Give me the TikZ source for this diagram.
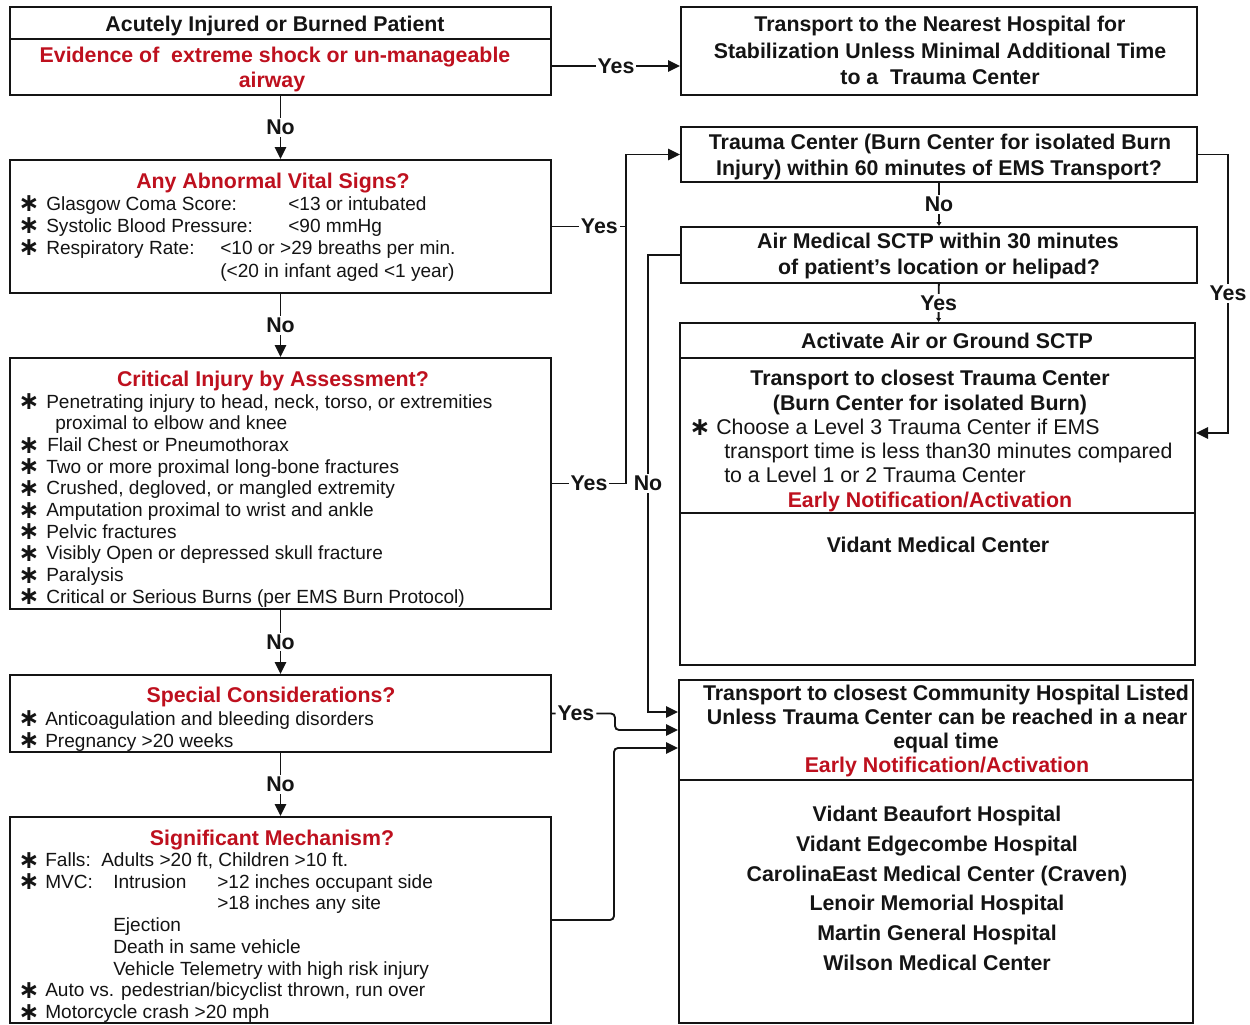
\documentclass[tikz,border=0pt]{standalone}
\usepackage{fontspec}
\setmainfont{Liberation Sans}
\newfontfamily\dvfont{DejaVu Sans}
\usetikzlibrary{fit,arrows.meta}
\definecolor{myred}{RGB}{190,16,30}
\definecolor{ink}{RGB}{20,20,20}
\newcommand\Bf{\bfseries\fontsize{16}{19}\selectfont}
\newcommand\Bd{\fontsize{14.3}{16}\selectfont}
\newcommand\Rb{\fontsize{16}{19}\selectfont}
\newcommand\Lt[4]{\node[txt,anchor=base west] (#1) at (#2,#3) {#4};}
\newcommand\Ct[4]{\node[txt,anchor=base] (#1) at (#2,#3) {#4};}
\newcommand\Sl[3]{\node[star] (#1) at (#2,#3) {\fontsize{19}{20}\selectfont\dvfont\bfseries ∗};}
\newcommand\Sr[3]{\node[star] (#1) at (#2,#3) {\fontsize{19}{20}\selectfont\dvfont\bfseries ∗};}
\begin{document}
\begin{tikzpicture}[x=0.75pt,y=-0.75pt,
  txt/.style={inner sep=0pt,text=ink},
  star/.style={inner sep=0pt,text=ink,anchor=base,yshift=-1.2pt,text height=9pt,text depth=0pt},
  box/.style={draw=ink,line width=1.5pt,inner sep=0pt},
  con/.style={draw=ink,line width=1.4pt},
  arr/.style={-{Triangle[length=9pt,width=8.5pt]}},
  arrs/.style={-{Triangle[length=3pt,width=3.5pt]}},
  lbl/.style={fill=white,inner sep=1.5pt,font=\Bf,text=ink}]
\useasboundingbox (0,0) rectangle (1250,1025);
\fill[white] (0,0) rectangle (1250,1025);
% ---------- boxes
\node[box,fit={(10,7) (551,95)}] (A) {};
\node[box,fit={(10,160) (551,293)}] (B) {};
\node[box,fit={(10,358) (551,609)}] (C) {};
\node[box,fit={(10,675) (551,752)}] (D) {};
\node[box,fit={(10,817) (551,1023)}] (E) {};
\node[box,fit={(681,7) (1197,95)}] (R1) {};
\node[box,fit={(681,127) (1197,182)}] (R2) {};
\node[box,fit={(681,227) (1197,283)}] (R3) {};
\node[box,fit={(680,323) (1195,665)}] (R4) {};
\node[box,fit={(679,680) (1193,1023)}] (R5) {};
\draw[con,line width=1.5pt] (A.west |- 0,39) -- (A.east |- 0,39);
\draw[con,line width=1.5pt] (R4.west |- 0,358) -- (R4.east |- 0,358);
\draw[con,line width=1.5pt] (R4.west |- 0,513) -- (R4.east |- 0,513);
\draw[con,line width=1.5pt] (R5.west |- 0,780) -- (R5.east |- 0,780);
% ---------- box A
\Ct{a1}{275}{31}{\Bf Acutely Injured or Burned Patient}
\Ct{a2}{275}{62}{\Bf\color{myred}Evidence of~~extreme shock or un-manageable}
\Ct{a3}{272}{87}{\Bf\color{myred}airway}
% ---------- box B
\Ct{b0}{273}{188}{\Bf\color{myred}Any Abnormal Vital Signs?}
\Sl{bs1}{29}{210}\Lt{b1}{46}{210}{\Bd Glasgow Coma Score:}\Lt{b1v}{288}{210}{\Bd <13 or intubated}
\Sl{bs2}{29}{232}\Lt{b2}{46}{232}{\Bd Systolic Blood Pressure:}\Lt{b2v}{288}{232}{\Bd <90 mmHg}
\Sl{bs3}{29}{254}\Lt{b3}{46}{254}{\Bd Respiratory Rate:}\Lt{b3v}{220}{254}{\Bd <10 or >29 breaths per min.}
\Lt{b4}{220}{277}{\Bd (<20 in infant aged <1 year)}
% ---------- box C
\Ct{c0}{273}{386}{\Bf\color{myred}Critical Injury by Assessment?}
\Sl{cs1}{29}{408}\Lt{c1}{46}{408}{\Bd Penetrating injury to head, neck, torso, or extremities}
\Lt{c1b}{55}{429.7}{\Bd proximal to elbow and knee}
\Sl{cs2}{29}{451.4}\Lt{c2}{47}{451.4}{\Bd Flail Chest or Pneumothorax}
\Sl{cs3}{29}{473.1}\Lt{c3}{46}{473.1}{\Bd Two or more proximal long-bone fractures}
\Sl{cs4}{29}{494.8}\Lt{c4}{46}{494.8}{\Bd Crushed, degloved, or mangled extremity}
\Sl{cs5}{29}{516.5}\Lt{c5}{46}{516.5}{\Bd Amputation proximal to wrist and ankle}
\Sl{cs6}{29}{538.2}\Lt{c6}{46}{538.2}{\Bd Pelvic fractures}
\Sl{cs7}{29}{559.9}\Lt{c7}{46}{559.9}{\Bd Visibly Open or depressed skull fracture}
\Sl{cs8}{29}{581.6}\Lt{c8}{46}{581.6}{\Bd Paralysis}
\Sl{cs9}{29}{603.3}\Lt{c9}{46}{603.3}{\Bd Critical or Serious Burns (per EMS Burn Protocol)}
% ---------- box D
\Ct{d0}{271}{702}{\Bf\color{myred}Special Considerations?}
\Sl{ds1}{29}{725}\Lt{d1}{45}{725}{\Bd Anticoagulation and bleeding disorders}
\Sl{ds2}{29}{747}\Lt{d2}{45}{747}{\Bd Pregnancy >20 weeks}
% ---------- box E
\Ct{e0}{272}{845}{\Bf\color{myred}Significant Mechanism?}
\Sl{es1}{29}{866.5}\Lt{e1}{45}{866.5}{\Bd Falls:}\Lt{e1b}{101}{866.5}{\Bd Adults >20 ft, Children >10 ft.}
\Sl{es2}{29}{888.2}\Lt{e2}{45}{888.2}{\Bd MVC:}\Lt{e2b}{113}{888.2}{\Bd Intrusion}\Lt{e2c}{217}{888.2}{\Bd >12 inches occupant side}
\Lt{e3}{217}{909.9}{\Bd >18 inches any site}
\Lt{e4}{113}{931.6}{\Bd Ejection}
\Lt{e5}{113}{953.3}{\Bd Death in same vehicle}
\Lt{e6}{113}{975}{\Bd Vehicle Telemetry with high risk injury}
\Sl{es7}{29}{996.7}\Lt{e7}{45}{996.7}{\Bd Auto vs. pedestrian/bicyclist thrown, run over}
\Sl{es8}{29}{1018.4}\Lt{e8}{45}{1018.4}{\Bd Motorcycle crash >20 mph}
% ---------- right column
\Ct{r11}{940}{31}{\Bf Transport to the Nearest Hospital for}
\Ct{r12}{940}{58}{\Bf Stabilization Unless Minimal Additional Time}
\Ct{r13}{940}{84}{\Bf to a~ Trauma Center}
\Ct{r21}{940}{149}{\Bf Trauma Center (Burn Center for isolated Burn}
\Ct{r22}{939}{175}{\Bf Injury) within 60 minutes of EMS Transport?}
\Ct{r31}{938}{248}{\Bf Air Medical SCTP within 30 minutes}
\Ct{r32}{939}{274}{\Bf of patient's location or helipad?}
\Ct{r40}{947}{348}{\Bf Activate Air or Ground SCTP}
\Ct{r41}{930}{385}{\Bf Transport to closest Trauma Center}
\Ct{r42}{930}{410}{\Bf (Burn Center for isolated Burn)}
\Sr{r4s}{700}{434}\Lt{r43}{716}{434}{\Rb Choose a Level 3 Trauma Center if EMS}
\Lt{r44}{724}{458}{\Rb transport time is less than30 minutes compared}
\Lt{r45}{724}{482}{\Rb to a Level 1 or 2 Trauma Center}
\Ct{r46}{930}{507}{\Bf\color{myred}Early Notification/Activation}
\Ct{r47}{938}{552}{\Bf Vidant Medical Center}
\Ct{r51}{946}{700}{\Bf Transport to closest Community Hospital Listed}
\Ct{r52}{947}{724}{\Bf Unless Trauma Center can be reached in a near}
\Ct{r53}{946}{748}{\Bf equal time}
\Ct{r54}{947}{772}{\Bf\color{myred}Early Notification/Activation}
\Ct{h1}{937}{821}{\Bf Vidant Beaufort Hospital}
\Ct{h2}{937}{851}{\Bf Vidant Edgecombe Hospital}
\Ct{h3}{937}{881}{\Bf CarolinaEast Medical Center (Craven)}
\Ct{h4}{937}{910}{\Bf Lenoir Memorial Hospital}
\Ct{h5}{937}{940}{\Bf Martin General Hospital}
\Ct{h6}{937}{970}{\Bf Wilson Medical Center}
% ---------- connectors
\coordinate (j) at (626,0);
\coordinate (k) at (648,712);
\coordinate (m) at (615,730);
\coordinate (n) at (614,748);
\coordinate (p) at (1228,433);
\draw[con,arr] (A.east |- 0,66) -- node[lbl]{Yes} (R1.west |- 0,66);
\draw[con,arr] (A) -- node[lbl]{No} (B);
\draw[con,arr] (B) -- node[lbl]{No} (C);
\draw[con,arr] (C) -- node[lbl]{No} (D);
\draw[con,arr] (D) -- node[lbl]{No} (E);
\draw[con] (B.east) -- node[lbl,pos=.64]{Yes} (B.east -| j);
\draw[con,arr] (C.east) -- node[lbl]{Yes} (C.east -| j) |- (R2.west);
\draw[con,arr] (R3.west) -| node[lbl,pos=.75]{No} (k) -- (R5.west |- k);
\draw[con,arr,rounded corners=3pt] (D.east) -- node[lbl,pos=.38]{Yes} (D.east -| m) -- (m) -- (R5.west |- m);
\draw[con,arr,rounded corners=3pt] (E.east) -| (n) -- (R5.west |- n);
\draw[con,arr] (R2.east) -| node[lbl,pos=.75]{Yes} (p) -- (R4.east |- p);
\draw[con,arrs] (R2) -- node[lbl]{No} (R3);
\draw[con,arrs] (R3) -- node[lbl]{Yes} (R4);
\end{tikzpicture}
\end{document}
